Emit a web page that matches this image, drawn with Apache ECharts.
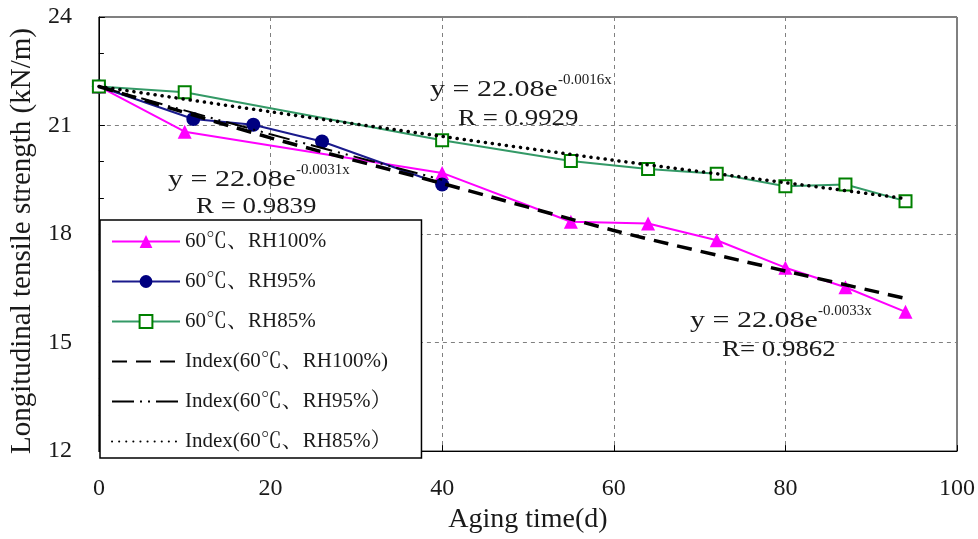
<!DOCTYPE html>
<html><head><meta charset="utf-8">
<script src="https://cdn.jsdelivr.net/npm/echarts@6/dist/echarts.min.js"></script>
<style>html,body{margin:0;padding:0;background:#fff}#c{width:978px;height:539px}</style>
</head><body><div id="c"></div>
<script>
// ---- data ----
const days100 = [0, 10, 40, 55, 64, 72, 80, 87, 94];
const rh100 = [22.08, 20.83, 19.69, 18.34, 18.29, 17.83, 17.07, 16.53, 15.85];
const days95 = [0, 11, 18, 26, 40];
const rh95 = [22.08, 21.18, 21.02, 20.56, 19.37];
const days85 = [0, 10, 40, 55, 64, 72, 80, 87, 94];
const rh85 = [22.08, 21.92, 20.59, 20.02, 19.80, 19.67, 19.32, 19.37, 18.91];
// trend lines
const fitDays100 = [0, 20, 40, 60, 80, 94];
const fit100 = [22.08, 20.66, 19.40, 18.10, 16.98, 16.22];
const fitDays95 = [0, 20, 40];
const fit95 = [22.08, 20.76, 19.50];
const fitDays85 = [0, 20, 40, 60, 80, 94];
const fit85 = [22.08, 21.38, 20.70, 20.04, 19.42, 18.98];
const seriesNames = ['60℃、RH100%', '60℃、RH95%', '60℃、RH85%',
  'Index(60℃、RH100%)', 'Index(60℃、RH95%）', 'Index(60℃、RH85%）'];
const xName = 'Aging time(d)';
const yName = 'Longitudinal tensile strength (kN/m)';
const xMin = 0, xMax = 100, xStep = 20;
const yMin = 12, yMax = 24, yStep = 3;
const eqs = [
  {a: 'y = 22.08e', e: '-0.0016x', r: 'R = 0.9929'},
  {a: 'y = 22.08e', e: '-0.0031x', r: 'R = 0.9839'},
  {a: 'y = 22.08e', e: '-0.0033x', r: 'R= 0.9862'}
];

const zip = (xs, ys) => xs.map((x, i) => [x, ys[i]]);
const FONT = "'Liberation Serif','Noto Serif CJK SC','Noto Sans CJK SC',serif";
const INK = '#1a1a1a';

const chart = echarts.init(document.getElementById('c'), null, {renderer: 'canvas'});
const annPos = [
  {x: 430, y: 90, sx: 558, sy: 80, rx: 458, ry: 119},
  {x: 168, y: 180, sx: 296, sy: 170, rx: 196, ry: 207},
  {x: 690, y: 321, sx: 818, sy: 311, rx: 722, ry: 350}
];
const graphics = [];
eqs.forEach((q, i) => {
  const p = annPos[i];
  graphics.push({type: 'text', x: p.x, y: p.y, scaleX: 1.25, z: 100,
    style: {text: q.a, fontFamily: FONT, fontSize: 24, fill: INK, verticalAlign: 'middle', align: 'left'}});
  graphics.push({type: 'text', x: p.sx, y: p.sy, z: 100,
    style: {text: q.e, fontFamily: FONT, fontSize: 15, fill: INK, verticalAlign: 'middle', align: 'left'}});
  graphics.push({type: 'text', x: p.rx, y: p.ry, scaleX: 1.12, z: 100,
    style: {text: q.r, fontFamily: FONT, fontSize: 24, fill: INK, verticalAlign: 'middle', align: 'left'}});
});

const legendData = seriesNames.map((n, i) => i >= 3 ? {name: n, itemStyle: {opacity: 0}} : {name: n});

const option = {
  backgroundColor: '#fff',
  animation: false,
  textStyle: {fontFamily: FONT},
  grid: {left: 96, right: 20, top: 17, bottom: 79, show: true, borderColor: '#000', borderWidth: 1, containLabel: false},
  xAxis: {
    type: 'value', min: xMin, max: xMax, interval: xStep,
    name: xName, nameLocation: 'middle', nameGap: 46,
    nameTextStyle: {fontFamily: FONT, fontSize: 28, color: INK},
    axisLine: {show: true, lineStyle: {color: '#000', width: 1}},
    axisTick: {show: true, inside: true, length: 6, lineStyle: {color: '#000'}},
    axisLabel: {fontFamily: FONT, fontSize: 24, color: INK, margin: 26},
    splitLine: {show: true, lineStyle: {color: '#808080', type: [4, 4], width: 1}}
  },
  yAxis: {
    type: 'value', min: yMin, max: yMax, interval: yStep,
    name: yName, nameLocation: 'middle', nameGap: 58, nameRotate: 90,
    nameTextStyle: {fontFamily: FONT, fontSize: 29, color: INK, padding: [0, 14, 0, 0]},
    axisLine: {show: true, lineStyle: {color: '#000', width: 1}},
    axisTick: {show: true, inside: true, length: 6, lineStyle: {color: '#000'}},
    minorTick: {show: true, splitNumber: 3, length: 5, lineStyle: {color: '#000'}},
    axisLabel: {fontFamily: FONT, fontSize: 24, color: INK, margin: 27},
    splitLine: {show: true, lineStyle: {color: '#808080', type: [4, 4], width: 1}}
  },
  legend: {
    orient: 'vertical', left: 100, top: 220,
    itemWidth: 68, itemHeight: 16, itemGap: 19,
    padding: [11, 30, 6, 11],
    backgroundColor: '#fff', borderColor: '#000', borderWidth: 1.5,
    textStyle: {fontFamily: FONT, fontSize: 21, lineHeight: 21, color: INK},
    data: legendData
  },
  graphic: graphics,
  series: [
    {name: seriesNames[0], type: 'line', data: zip(days100, rh100), symbol: 'triangle', symbolSize: 14,
      itemStyle: {color: '#ff00ff'}, lineStyle: {color: '#ff00ff', width: 2}, z: 3},
    {name: seriesNames[1], type: 'line', data: zip(days95, rh95), symbol: 'circle', symbolSize: 14,
      itemStyle: {color: '#000080'}, lineStyle: {color: '#1a1a8c', width: 2}, z: 3},
    {name: seriesNames[2], type: 'line', data: zip(days85, rh85), symbol: 'rect', symbolSize: 12,
      itemStyle: {color: '#fff', borderColor: '#008000', borderWidth: 2}, lineStyle: {color: '#339966', width: 2}, z: 3},
    {name: seriesNames[3], type: 'line', data: zip(fitDays100, fit100), symbol: 'none', smooth: 0.3,
      itemStyle: {color: '#000'}, lineStyle: {color: '#000', width: 3.5, type: [15, 9]}, z: 4},
    {name: seriesNames[4], type: 'line', data: zip(fitDays95, fit95), symbol: 'none', smooth: 0.3,
      itemStyle: {color: '#000'}, lineStyle: {color: '#000', width: 2, type: [22, 6, 2, 6, 2, 6]}, z: 4},
    {name: seriesNames[5], type: 'line', data: zip(fitDays85, fit85), symbol: 'none', smooth: 0.3,
      itemStyle: {color: '#000'}, lineStyle: {color: '#000', width: 3.5, type: [0.1, 7], cap: 'round'}, z: 4}
  ]
};
chart.setOption(option);
</script></body></html>
